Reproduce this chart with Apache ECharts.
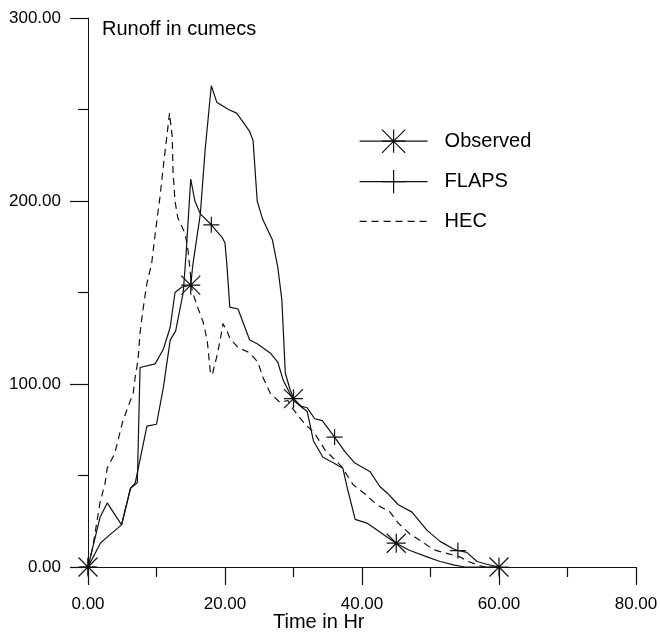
<!DOCTYPE html>
<html>
<head>
<meta charset="utf-8">
<script src="https://cdn.jsdelivr.net/npm/echarts@6/dist/echarts.min.js"></script>
<style>
  html, body { margin: 0; padding: 0; background: #fff; }
  #chart { width: 660px; height: 635px; }
</style>
</head>
<body>
<div id="chart"></div>
<script>
  // axis ticks
  const xTicks = [0, 20, 40, 60, 80];
  const yTicks = [0, 100, 200, 300];

  // [time in hr, runoff in cumecs]
  const observedData = [
    [0, 0], [1.75, 27], [2.8, 35], [4.9, 23], [6.2, 43], [7.2, 46], [7.6, 109], [9.8, 111],
    [11, 119], [12, 131], [12.7, 150], [13.7, 153], [15, 154], [15.3, 165], [16.4, 193],
    [17.1, 228], [18, 263], [18.8, 254], [20.5, 250], [21.7, 248], [23.6, 238], [24.1, 233],
    [24.7, 200], [25.5, 190], [26.9, 179], [27.7, 164], [28.3, 146], [28.8, 106], [29.5, 97],
    [30, 92], [31, 88], [32, 85], [32.9, 69], [34.3, 60], [35.8, 57], [37.2, 54], [37.8, 44],
    [39, 26], [40.7, 24], [42.3, 20], [43.8, 16], [45, 13], [47, 9], [49.5, 5.5], [51.4, 3],
    [53.5, 1], [55, 0], [60, 0]
  ];
  const flapsData = [
    [0, 0], [1.8, 13], [3, 17], [4.9, 23], [6.2, 43], [6.9, 46], [8.6, 77], [10, 78],
    [11, 98], [12, 124], [12.8, 129], [13.9, 150], [14.3, 170], [15, 212], [15.6, 200],
    [16.4, 193], [18, 187], [19.6, 180], [20, 177], [20.3, 164], [20.7, 142], [21.9, 141],
    [23.6, 124], [24.7, 122], [26.6, 117], [27.7, 112], [28.5, 102], [30, 91], [31, 88],
    [32, 87], [33.1, 81], [34.2, 80], [36, 71], [37.5, 63], [38.9, 57], [41.2, 52], [42.6, 44],
    [43.8, 40], [45.3, 34], [47.3, 30], [49.5, 20], [51.4, 14], [53.3, 10], [54, 9],
    [55.3, 8], [56.8, 3], [58.2, 1.5], [60, 0]
  ];
  const hecData = [
    [0, 0], [0.7, 11], [1.75, 35], [2.5, 46], [2.8, 54], [3.9, 62], [5.1, 80], [5.7, 86],
    [6.6, 95], [6.9, 104], [7.3, 113], [7.6, 128], [8, 140], [8.6, 155], [9.3, 166],
    [9.9, 185], [10.5, 202], [11, 219], [11.5, 235], [11.9, 248], [12.3, 235], [12.4, 217],
    [12.7, 200], [13.1, 191], [14.2, 182], [14.6, 173], [15.2, 151], [16, 142], [16.8, 134],
    [17.4, 124], [17.9, 105], [18.2, 106], [18.8, 115], [19.3, 124], [19.7, 133], [20.4, 128],
    [20.7, 125], [21.9, 120], [23.6, 117], [24.8, 112], [25.5, 104], [26.6, 95], [28, 90],
    [29.2, 91], [29.8, 87], [31.7, 78], [33.1, 73], [34.6, 64], [37, 55], [38.7, 45],
    [40.4, 40], [42.2, 34], [44.1, 30], [45.3, 24], [47, 18], [48.9, 13.5], [50.4, 9.5],
    [52.8, 7], [54.3, 5.5], [55.5, 3], [57, 1], [58, 0]
  ];

  // times where the markers sit
  const observedMarks = [0, 15, 30, 45, 60];
  const flapsMarks = [0, 18, 36, 54];

  const FONT = 'Liberation Sans, Arial, sans-serif';
  const INK = '#111';
  const STAR = 'path://M0,0L2,2M2,0L0,2M1,0L1,2M0,1L2,1';
  const PLUS = 'path://M0,1L2,1M1,0L1,2';

  const chart = echarts.init(document.getElementById('chart'), null, {renderer: 'canvas'});

  function markSize(marks, size) {
    return (value) => marks.indexOf(value[0]) >= 0 ? size : 0;
  }

  function lineSeries(name, data, symbol, marks, size, dash) {
    return {
      name: name,
      type: 'line',
      data: data,
      symbol: symbol,
      showAllSymbol: true,
      symbolSize: marks ? markSize(marks, size) : 0,
      animation: false,
      z: 3,
      lineStyle: {color: INK, width: 1.2, type: dash || 'solid'},
      itemStyle: {color: INK, borderColor: INK, borderWidth: 1.2}
    };
  }

  const axisText = {fontFamily: FONT, fontSize: 17, color: '#000'};
  const hidden = 'rgba(0,0,0,0)';

  const option = {
    backgroundColor: '#fff',
    animation: false,
    title: [
      {text: 'Runoff in cumecs', left: 102, top: 19, padding: 0,
        textStyle: {fontFamily: FONT, fontSize: 20, fontWeight: 'normal', color: '#000'}},
      {text: 'Time in Hr', left: 273, top: 612, padding: 0,
        textStyle: {fontFamily: FONT, fontSize: 20, fontWeight: 'normal', color: '#000'}}
    ],
    legend: {
      orient: 'vertical',
      left: 354,
      top: 124,
      itemWidth: 68,
      itemHeight: 29,
      itemGap: 16,
      selectedMode: false,
      data: [
        'Observed',
        'FLAPS',
        {name: 'HEC', itemStyle: {color: hidden, borderColor: hidden, borderWidth: 0}}
      ],
      itemStyle: {borderWidth: 1.2},
      lineStyle: {width: 1.2},
      textStyle: {fontFamily: FONT, fontSize: 20, color: '#000', padding: [0, 0, 0, 12]}
    },
    grid: {left: 88, right: 24, top: 18, bottom: 68, outerBoundsMode: 'none'},
    xAxis: {
      type: 'value',
      min: xTicks[0],
      max: xTicks[xTicks.length - 1],
      interval: xTicks[1] - xTicks[0],
      axisLine: {lineStyle: {color: INK, width: 1}},
      axisTick: {length: 18, lineStyle: {color: INK, width: 1.2}},
      minorTick: {show: true, splitNumber: 2, length: 10, lineStyle: {color: INK, width: 1.2}},
      splitLine: {show: false},
      axisLabel: Object.assign({margin: 29, formatter: v => v.toFixed(2)}, axisText)
    },
    yAxis: {
      type: 'value',
      min: yTicks[0],
      max: yTicks[yTicks.length - 1],
      interval: yTicks[1] - yTicks[0],
      axisLine: {show: true, lineStyle: {color: INK, width: 1}},
      axisTick: {show: true, length: 18, lineStyle: {color: INK, width: 1.2}},
      minorTick: {show: true, splitNumber: 2, length: 10, lineStyle: {color: INK, width: 1.2}},
      splitLine: {show: false},
      axisLabel: Object.assign({margin: 27, formatter: v => v.toFixed(2)}, axisText)
    },
    series: [
      lineSeries('Observed', observedData, STAR, observedMarks, 19),
      lineSeries('FLAPS', flapsData, PLUS, flapsMarks, 16),
      lineSeries('HEC', hecData, 'none', null, 0, [7, 5])
    ]
  };

  chart.setOption(option);
</script>
</body>
</html>
